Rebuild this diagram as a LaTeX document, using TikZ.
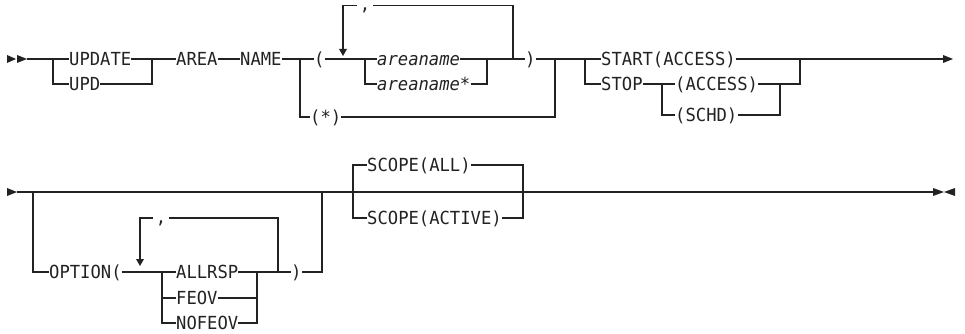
\documentclass[tikz,border=0pt]{standalone}
\usepackage{fontspec}
\newfontfamily\synfont[FakeStretch=0.955]{DejaVu Sans Mono}
\definecolor{ink}{HTML}{222222}
\begin{document}
\begin{tikzpicture}[x=1pt,y=-1pt,
  kw/.style={anchor=west, inner sep=0pt, text height=13.1pt, text depth=0pt,
    font=\synfont\fontsize{18}{21}\selectfont, text=ink},
  var/.style={kw, font=\synfont\itshape\fontsize{18}{21}\selectfont},
  sepc/.style={anchor=center, inner xsep=2.5pt, inner ysep=0pt, text height=2pt, text depth=0pt,
    font=\synfont\fontsize{18}{21}\selectfont, text=ink},
  ln/.style={draw=ink, line width=1.3pt},
  tip/.style={fill=ink}]
\useasboundingbox (0,0) rectangle (965,334);

% ---------- row 1 ----------
\node[kw] (update) at (69,59) {UPDATE};
\node[kw] (upd) at (69,84) {UPD};
\node[kw] (area) at (176,59) {AREA};
\node[kw] (name) at (240,59) {NAME};
\node[kw] (lp) at (314,59) {(};
\node[kw] (star) at (310,117) {(*)};
\node[var] (an) at (377,59) {areaname};
\node[var] (ans) at (377,84) {areaname*};
\node[kw] (rp) at (525,59) {)};
\node[kw] (start) at (601,59) {START(ACCESS)};
\node[kw] (stop) at (601,84) {STOP};
\node[kw] (acc) at (675,84) {(ACCESS)};
\node[kw] (schd) at (675,115) {(SCHD)};
\node[sepc] (c1) at (365,5.5) {\raisebox{-4pt}{,}};

\coordinate (b1) at (27,59);
\coordinate (e1) at (943,59);
\coordinate (d1) at (343,49);

% start double arrow
\fill[tip] (7,55) -- (16,59) -- (7,63) -- cycle;
\fill[tip] (17,55) -- (27,59) -- (17,63) -- cycle;
% end arrow
\fill[tip] (943,55) -- (953,59) -- (943,63) -- cycle;

\draw[ln] (b1) -- (update.west);
\draw[ln] (53,59) |- (upd.west);
\draw[ln] (update.east) -- (152,59) -- (area.west);
\draw[ln] (upd.east) -| (152,59);
\draw[ln] (area.east) -- (name.west);
\draw[ln] (name.east) -- (lp.west);
\draw[ln] (300,59) |- (star.west);
\draw[ln] (lp.east) -- (an.west);
\draw[ln] (365,59) |- (ans.west);
\draw[ln] (an.east) -- (rp.west);
\draw[ln] (ans.east) -| (487,59);
\draw[ln] (513,59) -- (513,5.5) -- (c1.east);
\draw[ln] (c1.west) -- (343,5.5) -- (d1);
\fill[tip] (339,49) -- (347,49) -- (343,56) -- cycle;
\draw[ln] (rp.east) -- (start.west);
\draw[ln] (star.east) -| (555,59);
\draw[ln] (585,59) |- (stop.west);
\draw[ln] (start.east) -- (e1);
\draw[ln] (stop.east) -- (acc.west);
\draw[ln] (662,84) |- (schd.west);
\draw[ln] (acc.east) -- (800,84) -- (800,59);
\draw[ln] (schd.east) -| (780,84);

% ---------- row 2 ----------
\node[kw] (opt) at (49,272) {OPTION(};
\node[kw] (allrsp) at (176,272) {ALLRSP};
\node[kw] (feov) at (176,298) {FEOV};
\node[kw] (nofeov) at (176,323) {NOFEOV};
\node[kw] (rp2) at (291,272) {)};
\node[kw] (sall) at (367,165) {SCOPE(ALL)};
\node[kw] (sact) at (367,218) {SCOPE(ACTIVE)};
\node[sepc] (c2) at (161,218) {\raisebox{-4pt}{,}};

\coordinate (b2) at (17,192);
\coordinate (e2) at (933,192);
\coordinate (d2) at (140,259);

\fill[tip] (7,188) -- (17,192) -- (7,196) -- cycle;
\fill[tip] (933,188) -- (944,192) -- (933,196) -- cycle;
\fill[tip] (955,188) -- (944,192) -- (955,196) -- cycle;

\draw[ln] (b2) -- (e2);
\draw[ln, line width=2.2pt] (528,192) -- (550,192);
\draw[ln] (33,192) |- (opt.west);
\draw[ln] (opt.east) -- (allrsp.west);
\draw[ln] (162,272) |- (feov.west);
\draw[ln] (162,272) |- (nofeov.west);
\draw[ln] (allrsp.east) -- (rp2.west);
\draw[ln] (feov.east) -| (257,272);
\draw[ln] (nofeov.east) -| (257,272);
\draw[ln] (278,272) -- (278,218) -- (c2.east);
\draw[ln] (c2.west) -- (140,218) -- (d2);
\fill[tip] (136,259) -- (144,259) -- (140,266) -- cycle;
\draw[ln] (rp2.east) -| (322,192);
\draw[ln] (353,192) |- (sall.west);
\draw[ln] (353,192) |- (sact.west);
\draw[ln] (sall.east) -| (523,192);
\draw[ln] (sact.east) -| (523,192);
\end{tikzpicture}
\end{document}
